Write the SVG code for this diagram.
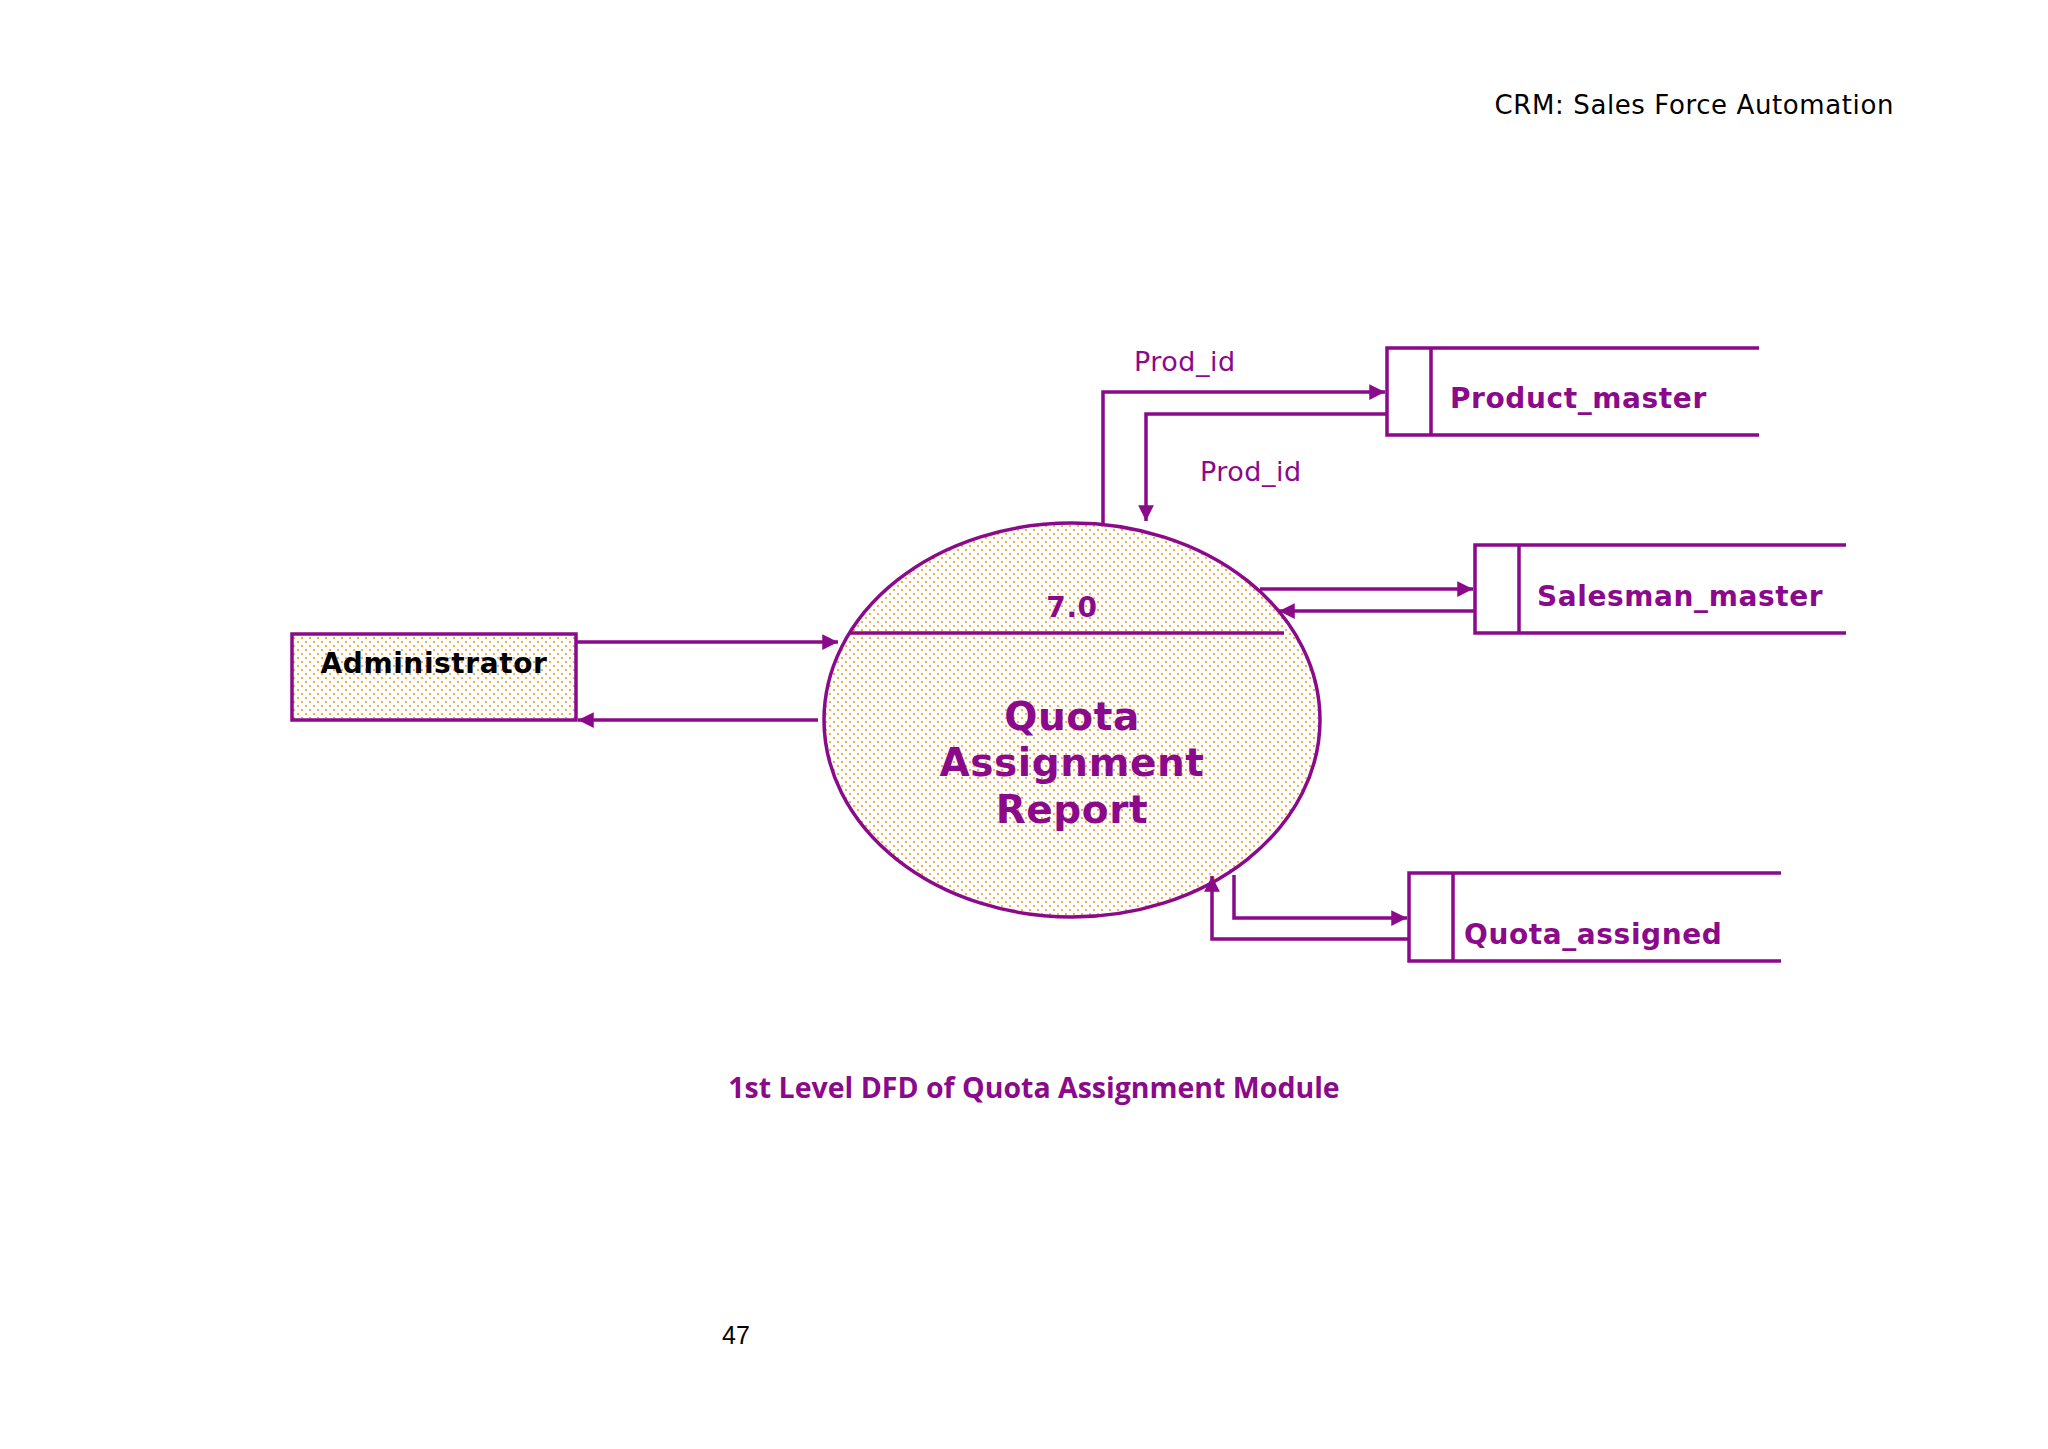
<svg xmlns="http://www.w3.org/2000/svg" width="2048" height="1449" viewBox="0 0 2048 1449">
<style>
.ln{stroke:#8B0A8B;stroke-width:3.5;fill:none}
.st{stroke:#8B0A8B;stroke-width:3.5;fill:none}
.dt{stroke:#8B0A8B;stroke-width:3.5;fill:url(#dots)}
.lbl{font-family:"DejaVu Sans",sans-serif;font-weight:bold;fill:#8B0A8B;font-size:28px;letter-spacing:0.6px}
.fl{font-family:"DejaVu Sans",sans-serif;fill:#8B0A8B;font-size:27px;letter-spacing:0.5px}
</style>
<defs>
<pattern id="dots" width="8" height="8" patternUnits="userSpaceOnUse">
<rect width="8" height="8" fill="#fff"/>
<circle cx="2" cy="2" r="1.1" fill="#F29A20"/>
<circle cx="6" cy="6" r="1.1" fill="#F29A20"/>
</pattern>
<marker id="ar" viewBox="0 0 10 10" refX="10" refY="5" markerWidth="5" markerHeight="4.5" orient="auto" markerUnits="strokeWidth">
<path d="M0,0L10,5L0,10z" fill="#8B0A8B"/>
</marker>
</defs>
<rect width="2048" height="1449" fill="#fff"/>
<text x="1894" y="114" text-anchor="end" font-family="DejaVu Sans,sans-serif" font-size="26" letter-spacing="0.6" fill="#000">CRM: Sales Force Automation</text>
<g id="administrator">
<rect x="292" y="634" width="284" height="86" class="dt"/>
<text x="434" y="673" text-anchor="middle" class="lbl" style="fill:#000">Administrator</text>
</g>
<g id="process">
<ellipse cx="1072" cy="720" rx="248" ry="197" class="dt"/>
<line x1="849" y1="633" x2="1284" y2="633" class="st"/>
<text x="1072" y="617" text-anchor="middle" class="lbl">7.0</text>
<text x="1072" y="730" text-anchor="middle" class="lbl" style="font-size:39px">Quota</text>
<text x="1072" y="776" text-anchor="middle" class="lbl" style="font-size:39px">Assignment</text>
<text x="1072" y="823" text-anchor="middle" class="lbl" style="font-size:39px">Report</text>
</g>
<g id="product_master">
<path d="M1759,348H1387V435H1759M1431,348V435" class="st"/>
<text x="1450" y="408" class="lbl">Product_master</text>
</g>
<g id="salesman_master">
<path d="M1846,545H1475V633H1846M1519,545V633" class="st"/>
<text x="1537" y="606" class="lbl">Salesman_master</text>
</g>
<g id="quota_assigned">
<path d="M1781,873H1409V961H1781M1453,873V961" class="st"/>
<text x="1464" y="944" class="lbl">Quota_assigned</text>
</g>
<g id="connectors">
<path d="M576,642H838" class="ln" marker-end="url(#ar)"/>
<path d="M818,720H578" class="ln" marker-end="url(#ar)"/>
<path d="M1103,523V392H1385" class="ln" marker-end="url(#ar)"/>
<path d="M1387,414H1146V521" class="ln" marker-end="url(#ar)"/>
<path d="M1260,589H1473" class="ln" marker-end="url(#ar)"/>
<path d="M1475,611H1279" class="ln" marker-end="url(#ar)"/>
<path d="M1234,875V918H1407" class="ln" marker-end="url(#ar)"/>
<path d="M1409,939H1212V876" class="ln" marker-end="url(#ar)"/>
<text x="1134" y="371" class="fl">Prod_id</text>
<text x="1200" y="481" class="fl">Prod_id</text>
</g>
<text x="1034" y="1098" text-anchor="middle" font-family="Open Sans,sans-serif" font-weight="bold" font-size="28.5" fill="#8B0A8B">1st Level DFD of Quota Assignment Module</text>
<text x="736" y="1344" text-anchor="middle" font-family="Liberation Sans Narrow,Liberation Sans,sans-serif" font-size="25" fill="#000">47</text>
</svg>
